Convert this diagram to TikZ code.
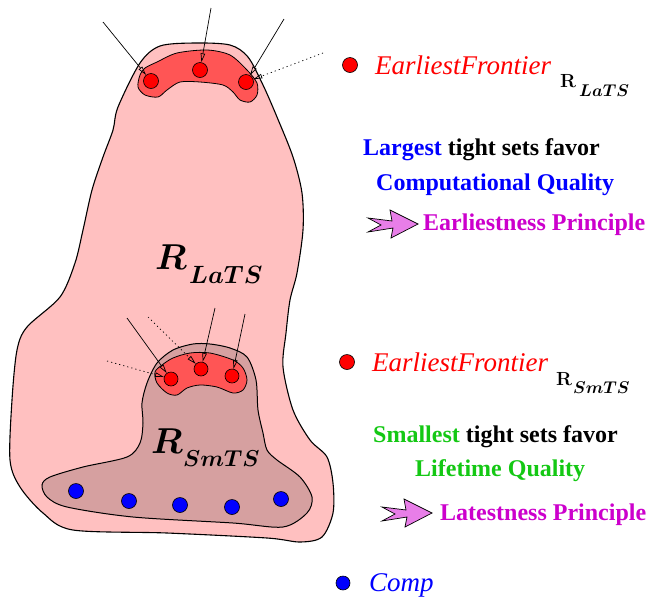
\RequirePackage{fix-cm}
\documentclass[tikz,border=0pt]{standalone}
\usepackage{amsmath,bm}
\usepackage[no-math]{fontspec}
\setmainfont{Liberation Serif}
\usetikzlibrary{arrows.meta}
\definecolor{pinkfill}{RGB}{255,192,192}
\definecolor{smfill}{RGB}{214,160,160}
\definecolor{frontfill}{RGB}{255,85,85}
\definecolor{dotred}{RGB}{255,0,0}
\definecolor{dotblue}{RGB}{0,0,255}
\definecolor{tblue}{RGB}{0,0,255}
\definecolor{tgreen}{RGB}{20,200,20}
\definecolor{tmag}{RGB}{204,0,204}
\definecolor{afill}{RGB}{232,126,232}
\tikzset{
  region/.style={draw=black, line width=1.1pt},
  reddot/.style={circle, draw=black, line width=0.6pt, fill=dotred, minimum size=15pt, inner sep=0pt},
  bluedot/.style={circle, draw=black, line width=0.6pt, fill=dotblue, minimum size=15pt, inner sep=0pt},
  inarrow/.style={line width=0.7pt, -{Triangle[open,length=9pt,width=4.5pt]}},
  dotarrow/.style={inarrow, dash pattern=on 1.2pt off 3pt},
  btxt/.style={inner sep=0pt, anchor=base west, font=\fontsize{24}{28}\selectfont\bfseries},
  itxt/.style={inner sep=0pt, anchor=base west, font=\fontsize{27}{30}\selectfont\itshape},
  subR/.style={inner sep=0pt, anchor=base west, font=\fontsize{19}{22}\selectfont\boldmath},
  subT/.style={inner sep=0pt, anchor=base west, font=\fontsize{17}{20}\selectfont\boldmath},
  fatarrow/.style={draw=black, line width=0.7pt, fill=afill},
}
\begin{document}
\begin{tikzpicture}[x=1pt,y=-1pt]
\useasboundingbox (0,0) rectangle (651,598);

% outer region R_LaTS
\filldraw[region, fill=pinkfill] plot[smooth cycle, tension=0.5] coordinates {
(160,46) (195,43) (230,45) (248,57) (263,85) (277,117) (293,157) (302,193)
(303,230) (297,273) (290,300) (286,333) (283,367) (293,410) (310,440)
(327,457) (333,483) (333,513) (322,537) (300,542) (267,538) (167,533)
(73,530) (43,513) (20,487) (10,460) (12,400) (17,350) (27,327) (60,297)
(75,263) (83,230) (92,190) (103,157) (113,130) (118,107) (140,63)};

% inner region R_SmTS
\filldraw[region, line width=1pt, fill=smfill] plot[smooth cycle, tension=0.5] coordinates {
(193,344) (210,344) (230,348) (247,357) (256,380) (258,410) (263,433)
(267,450) (277,460) (300,477) (312,497) (307,513) (283,527) (233,523)
(133,517) (67,507) (47,497) (42,485) (50,477) (83,467) (127,457)
(140,443) (143,423) (142,403) (147,383) (157,363) (173,350)};

% top frontier
\filldraw[draw=black, line width=0.8pt, fill=frontfill] plot[smooth cycle, tension=0.5] coordinates {
(145,68) (157,62) (177,53) (207,50) (230,55) (247,70) (257,83) (257,95)
(250,102) (240,100) (233,92) (223,85) (200,82) (180,82) (167,90)
(158,97) (145,95) (138,87) (140,75)};

% SmTS frontier
\filldraw[draw=black, line width=0.8pt, fill=frontfill] plot[smooth cycle, tension=0.5] coordinates {
(162,365) (173,358) (190,353) (210,353) (233,360) (243,368) (247,380)
(243,390) (233,393) (217,387) (200,385) (187,388) (177,395) (167,393)
(157,383) (155,372)};

% dots
\node[reddot] (t1) at (151,81) {};
\node[reddot] (t2) at (200,70) {};
\node[reddot] (t3) at (246,82) {};
\node[reddot, minimum size=14pt] (s1) at (171,379) {};
\node[reddot, minimum size=14pt] (s2) at (201,369) {};
\node[reddot, minimum size=14pt] (s3) at (232,376) {};
\node[bluedot] (b1) at (76,491) {};
\node[bluedot] (b2) at (129,501) {};
\node[bluedot] (b3) at (180,505) {};
\node[bluedot] (b4) at (232,507) {};
\node[bluedot] (b5) at (281,499) {};

% incoming arrows
\coordinate (ta1) at (103,22);
\coordinate (ta2) at (211,8);
\coordinate (ta3) at (284,19);
\coordinate (ta4) at (323,53);
\draw[inarrow] (ta1) -- (t1);
\draw[inarrow] (ta2) -- (t2);
\draw[inarrow] (ta3) -- (t3);
\draw[dotarrow] (ta4) -- (t3);
\coordinate (sa1) at (127,318);
\coordinate (sa2) at (107,361);
\coordinate (sa3) at (148,317);
\coordinate (sa4) at (215,308);
\coordinate (sa5) at (245,314);
\draw[inarrow] (sa1) -- (s1);
\draw[dotarrow] (sa2) -- (s1);
\draw[dotarrow] (sa3) -- (s2);
\draw[inarrow] (sa4) -- (s2);
\draw[inarrow] (sa5) -- (s3);

% region labels
\node[inner sep=0pt, anchor=base west, font=\fontsize{36}{40}\selectfont] (rl) at (155,269) {$\bm{R}$};
\node[inner sep=0pt, anchor=base west, font=\fontsize{25}{28}\selectfont] (rlsub) at (189,283) {$\bm{LaTS}$};
\node[inner sep=0pt, anchor=base west, font=\fontsize{36}{40}\selectfont] (rs) at (151,453) {$\bm{R}$};
\node[inner sep=0pt, anchor=base west, font=\fontsize{23}{26}\selectfont] (rssub) at (183,466) {$\bm{SmTS}$};

% legend upper
\node[reddot] (ld1) at (350,65) {};
\node[itxt, text=red] (ef1) at (375,74) {EarliestFrontier};
\node[subR] (ef1r) at (560,87) {$\mathbf{R}$};
\node[subT] (ef1s) at (579,96) {$\bm{LaTS}$};
\node[btxt] (lg1) at (363,155) {\textcolor{tblue}{Largest} tight sets favor};
\node[btxt, text=tblue] (lg2) at (376,190) {Computational Quality};
\filldraw[fatarrow] (368,218) -- (392,221) -- (390,210) -- (418,224) -- (391,238) -- (393,228) -- (368,232) -- (381,225) -- cycle;
\node[btxt, text=tmag] (lg3) at (423,230) {Earliestness Principle};

% legend lower
\node[reddot] (ld2) at (347,362) {};
\node[itxt, text=red] (ef2) at (372,371) {EarliestFrontier};
\node[subR] (ef2r) at (556,385) {$\mathbf{R}$};
\node[subT] (ef2s) at (573,393) {$\bm{SmTS}$};
\node[btxt] (sm1) at (373,442) {\textcolor{tgreen}{Smallest} tight sets favor};
\node[btxt, text=tgreen] (sm2) at (415,476) {Lifetime Quality};
\filldraw[fatarrow] (382,507) -- (406,510) -- (404,499) -- (432,513) -- (405,527) -- (407,517) -- (382,521) -- (395,514) -- cycle;
\node[btxt, text=tmag] (sm3) at (440,520) {Latestness Principle};

% Comp
\node[bluedot, minimum size=14pt] (cd) at (343,583) {};
\node[itxt, text=tblue] (comp) at (369,591) {Comp};
\end{tikzpicture}
\end{document}
